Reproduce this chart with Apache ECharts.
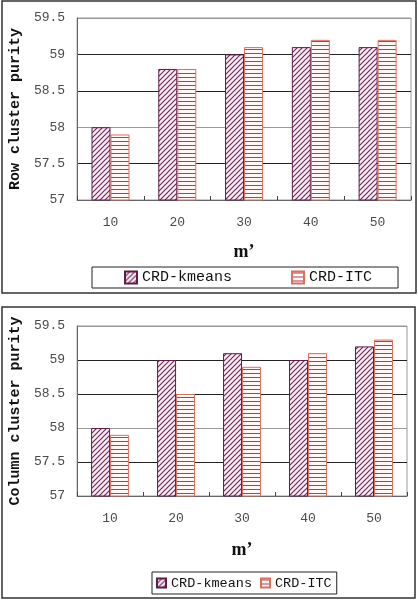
<!DOCTYPE html>
<html><head><meta charset="utf-8">
<script src="https://cdn.jsdelivr.net/npm/echarts@6/dist/echarts.min.js"></script>
<style>html,body{margin:0;padding:0;background:#fff}#c{width:418px;height:600px}</style>
</head><body><div id="c"></div>
<script>
const categories = ['10','20','30','40','50'];
const seriesNames = ['CRD-kmeans','CRD-ITC'];
const rowKmeans = [58.0, 58.8, 59.0, 59.1, 59.1];
const rowItc    = [57.9, 58.8, 59.1, 59.2, 59.2];
const colKmeans = [58.0, 59.0, 59.1, 59.0, 59.2];
const colItc    = [57.9, 58.5, 58.9, 59.1, 59.3];
const yMin = 57, yMax = 59.5, yStep = 0.5;
const rowTitle = 'Row cluster purity';
const colTitle = 'Column cluster purity';
const xTitle = 'm\u2019';

const MONO = "'Liberation Mono', 'Courier New', monospace";
const SERIF = "'Liberation Serif', 'Times New Roman', serif";

function hatchPattern(){
  const s = 5, c = document.createElement('canvas'); c.width = s; c.height = s;
  const g = c.getContext('2d');
  g.fillStyle = '#fbeef5'; g.fillRect(0,0,s,s);
  g.strokeStyle = '#742a5a'; g.lineWidth = 1.2;
  g.beginPath();
  g.moveTo(-1, s+1); g.lineTo(s+1, -1);
  g.moveTo(-1, 1); g.lineTo(1, -1);
  g.moveTo(s-1, s+1); g.lineTo(s+1, s-1);
  g.stroke();
  return {image: c, repeat: 'repeat'};
}
function stripePattern(){
  const c = document.createElement('canvas'); c.width = 4; c.height = 4;
  const g = c.getContext('2d');
  g.fillStyle = '#fff6f6'; g.fillRect(0,0,4,4);
  g.fillStyle = '#b04050'; g.fillRect(0,1,4,1);
  return {image: c, repeat: 'repeat'};
}
const kStyle = {color: hatchPattern(), borderColor: '#5e1c46', borderWidth: 1};
const iStyle = {color: stripePattern(), borderColor: '#d8705e', borderWidth: 1};

const labelFont = {fontFamily: MONO, fontSize: 13, color: '#4a4a4a'};
const splitColors = ['#555','#222','#999','#222','#222','#999'];

function yAxis(gi, name){
  return {type:'value', gridIndex: gi, min: yMin, max: yMax, interval: yStep,
    name: name, nameLocation: 'middle', nameGap: 48,
    nameTextStyle: {fontFamily: MONO, fontWeight: 'bold', fontSize: 15, color: '#111'},
    axisLine: {show: true, lineStyle: {color: '#666'}}, axisTick: {show: false},
    axisLabel: Object.assign({margin: 12}, labelFont),
    splitLine: {show: true, lineStyle: {color: splitColors, width: 1}}};
}
function xAxis(gi, gap){
  return {type:'category', gridIndex: gi, data: categories,
    name: xTitle, nameLocation: 'middle', nameGap: gap,
    nameTextStyle: {fontFamily: SERIF, fontWeight: 'bold', fontSize: 18, color: '#111'},
    axisLine: {show: true, lineStyle: {color: '#666'}},
    axisTick: {show: true, inside: true, length: 4, lineStyle: {color: '#444'}},
    axisLabel: Object.assign({margin: 16}, labelFont, {fontSize: 13})};
}
function bar(name, data, gi, style){
  return {type:'bar', name: name, data: data, xAxisIndex: gi, yAxisIndex: gi,
    barWidth: 19, barGap: '0%', itemStyle: style, emphasis: {disabled: true}};
}

const chart = echarts.init(document.getElementById('c'), null, {renderer: 'canvas'});
chart.setOption({
  animation: false,
  graphic: [
    {type:'rect', shape:{x:2, y:1, width:414, height:292}, style:{fill:'none', stroke:'#333', lineWidth:1.5}, z: -1},
    {type:'rect', shape:{x:2, y:307, width:413, height:291}, style:{fill:'none', stroke:'#333', lineWidth:1.5}, z: -1}
  ],
  grid: [
    {left: 77, top: 18, width: 334, height: 182, show: true, borderColor: '#999', borderWidth: 1},
    {left: 77, top: 326, width: 330, height: 170, show: true, borderColor: '#999', borderWidth: 1}
  ],
  xAxis: [xAxis(0, 43), xAxis(1, 45)],
  yAxis: [yAxis(0, rowTitle), yAxis(1, colTitle)],
  legend: [
    {data: seriesNames, left: 92, top: 267, orient: 'horizontal', icon: 'rect',
     itemWidth: 12, itemHeight: 12, itemGap: 59, padding: [3, 26, 3, 32],
     borderColor: '#222', borderWidth: 1, selectedMode: false,
     textStyle: {fontFamily: MONO, fontSize: 15, color: '#111'}},
    {data: seriesNames, left: 152, top: 572, orient: 'horizontal', icon: 'rect',
     itemWidth: 9, itemHeight: 9, itemGap: 8, padding: [4, 5, 4, 4],
     borderColor: '#222', borderWidth: 1, selectedMode: false,
     textStyle: {fontFamily: MONO, fontSize: 13.5, color: '#111'}}
  ],
  series: [
    bar(seriesNames[0], rowKmeans, 0, kStyle),
    bar(seriesNames[1], rowItc, 0, iStyle),
    bar(seriesNames[0], colKmeans, 1, kStyle),
    bar(seriesNames[1], colItc, 1, iStyle)
  ]
});
</script></body></html>
